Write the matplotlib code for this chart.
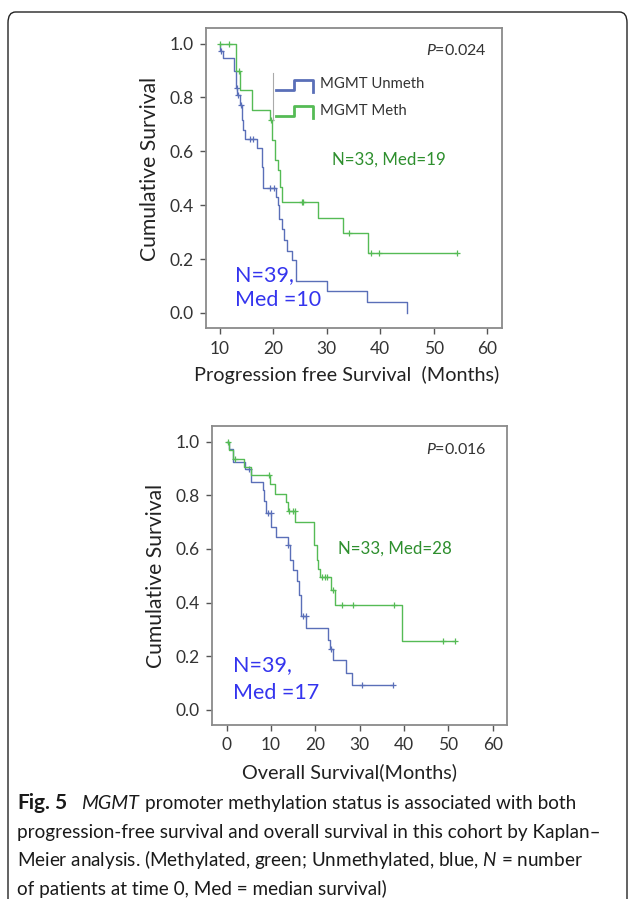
import numpy as np
import matplotlib
matplotlib.use("Agg")
import matplotlib.pyplot as plt
from matplotlib.patches import FancyBboxPatch

plt.rcParams['font.family'] = ['Lato', 'DejaVu Sans']
plt.rcParams['mathtext.fontset'] = 'custom'
plt.rcParams['mathtext.rm'] = 'Lato'
plt.rcParams['mathtext.it'] = 'Lato:italic'
plt.rcParams['mathtext.bf'] = 'Lato:bold'

# progression free survival, months (curve starts at 10)
pfs_meth_t = [13.0, 13.7, 15.9, 19.4, 19.7, 20.3, 20.9, 21.25, 21.6, 28.4, 33.0, 37.7]
pfs_meth_s = [0.897, 0.826, 0.754, 0.717, 0.643, 0.568, 0.531, 0.469, 0.411, 0.351, 0.295, 0.221]
pfs_meth_cens = [10.0, 11.75, 13.6, 19.6, 25.3, 25.6, 34.1, 38.3, 39.8, 54.4]

pfs_unmeth_t = [10.0, 10.6, 12.6, 13.05, 13.2, 13.7, 14.1, 14.4, 14.7, 17.0, 17.9, 18.0,
                20.5, 20.8, 21.0, 21.6, 22.0, 22.6, 23.4, 24.2, 30.0, 37.5, 45.0]
pfs_unmeth_s = [0.974, 0.947, 0.90, 0.835, 0.81, 0.773, 0.717, 0.68, 0.645, 0.612, 0.54, 0.463,
                0.43, 0.40, 0.35, 0.31, 0.27, 0.23, 0.195, 0.12, 0.081, 0.041, 0.0]
pfs_unmeth_cens = [10.2, 13.1, 13.3, 13.9, 15.6, 16.25, 19.4, 20.1]

# overall survival, months
os_meth_t = [0.6, 1.5, 3.9, 5.6, 9.8, 10.9, 13.4, 13.8, 15.5, 19.7, 20.3, 20.6, 21.0, 23.6, 24.4, 39.6]
os_meth_s = [0.967, 0.935, 0.905, 0.874, 0.843, 0.805, 0.774, 0.743, 0.70, 0.613, 0.558, 0.527,
             0.496, 0.446, 0.39, 0.258]
os_meth_cens = [0.4, 1.9, 9.5, 14.1, 15.0, 15.4, 21.6, 22.1, 22.7, 24.0, 26.1, 28.5, 37.8, 48.8, 51.4]

os_unmeth_t = [0.6, 1.5, 4.1, 5.6, 8.3, 8.5, 8.9, 10.1, 11.1, 13.8, 14.3, 15.0, 15.8, 16.4, 16.7,
               18.0, 22.9, 23.4, 24.0, 27.0, 28.2]
os_unmeth_s = [0.974, 0.923, 0.897, 0.849, 0.82, 0.78, 0.735, 0.68, 0.644, 0.613, 0.56, 0.52, 0.48,
               0.43, 0.35, 0.304, 0.26, 0.226, 0.186, 0.136, 0.093]
os_unmeth_cens = [5.1, 9.4, 9.9, 13.9, 17.3, 17.9, 23.6, 30.6, 37.5]

GREEN = '#55bb55'
BLUE = '#5a6fb8'
GREEN_TXT = '#2e8f2e'
BLUE_TXT = '#3434ee'
DARK = '#333333'
SPINE = '#8a8a8a'
W, H = 629, 899


def km_curve(ax, start, times, surv, cens, color):
    t = np.concatenate([[start], times])
    s = np.concatenate([[1.0], surv])
    if max(cens) > t[-1]:
        t = np.append(t, max(cens))
        s = np.append(s, s[-1])
    ax.step(t, s, where='post', color=color, lw=1.0)
    idx = np.searchsorted(t, cens, side='right') - 1
    ax.plot(cens, s[idx], ls='none', marker='+', ms=5, mew=0.9, color=color)


def style_axes(ax, xlim, xticks, xlabel, xlabel_x, ylabel_y):
    ax.set_xlim(*xlim)
    ax.set_ylim(-0.056, 1.058)
    ax.set_xticks(xticks)
    ax.set_yticks(np.arange(0, 1.01, 0.2))
    ax.set_yticklabels([f'{v:.1f}' for v in np.arange(0, 1.01, 0.2)])
    for sp in ax.spines.values():
        sp.set_color(SPINE)
        sp.set_linewidth(1.3)
    ax.tick_params(direction='out', length=4, width=1, color='#555555',
                   labelcolor=DARK, labelsize=12.5, pad=5)
    ax.set_ylabel('Cumulative Survival', fontsize=15.2, color='#222222', labelpad=7)
    ax.set_xlabel(xlabel, fontsize=14.3, color='#222222', labelpad=7)
    ax.xaxis.label.set_x(xlabel_x)
    ax.yaxis.label.set_y(ylabel_y)


def draw_runs(fig, x, y, runs):
    # place text pieces one after another on a shared baseline (pixel coords)
    r = fig.canvas.get_renderer()
    for s, gap, kw in runs:
        t = fig.text(x / W, 1 - y / H, s, ha='left', va='baseline', color='#1a1a1a', **kw)
        x += t.get_window_extent(renderer=r).width + gap


fig = plt.figure(figsize=(W / 100, H / 100), dpi=100)

# rounded frame around the figure panel
frame = FancyBboxPatch((8 / W, -0.05), 619 / W, 1.05 - 12 / H,
                       boxstyle='round,pad=0,rounding_size=0.012',
                       transform=fig.transFigure, fill=False, ec='#222222', lw=1.0)
fig.patches.append(frame)

# --- progression free survival ---
ax1 = fig.add_axes([206 / W, 1 - 328 / H, 296 / W, 300 / H])
km_curve(ax1, 10.0, pfs_unmeth_t, pfs_unmeth_s, pfs_unmeth_cens, BLUE)
km_curve(ax1, 10.0, pfs_meth_t, pfs_meth_s, pfs_meth_cens, GREEN)
style_axes(ax1, (7.38, 62.8), range(10, 61, 10), 'Progression free Survival  (Months)', 0.475, 0.53)

ax1.text(60.0, 0.975, r'$\mathit{P}$=0.024', ha='right', va='center', fontsize=11.5, color=DARK)
ax1.text(31.0, 0.57, 'N=33, Med=19', ha='left', va='center', fontsize=12.2, color=GREEN_TXT)
ax1.text(12.8, 0.141, 'N=39,', ha='left', va='center', fontsize=15.5, color=BLUE_TXT)
ax1.text(12.8, 0.048, 'Med =10', ha='left', va='center', fontsize=15.5, color=BLUE_TXT)

# legend drawn as small step glyphs
step_x = np.array([0.236, 0.297, 0.297, 0.361, 0.361])
step_y = np.array([0.0, 0.0, 0.032, 0.032, -0.006])
ax1.plot(step_x, 0.793 + step_y, color=BLUE, lw=2.0, transform=ax1.transAxes)
ax1.plot(step_x, 0.707 + step_y, color=GREEN, lw=2.0, transform=ax1.transAxes)
ax1.plot([0.226, 0.226], [0.693, 0.85], color='#aaaaaa', lw=0.8, transform=ax1.transAxes)
ax1.text(0.385, 0.813, 'MGMT Unmeth', transform=ax1.transAxes, ha='left', va='center',
         fontsize=10.7, color=DARK)
ax1.text(0.385, 0.723, 'MGMT Meth', transform=ax1.transAxes, ha='left', va='center',
         fontsize=10.7, color=DARK)

# --- overall survival ---
ax2 = fig.add_axes([212 / W, 1 - 725 / H, 295 / W, 299 / H])
km_curve(ax2, 0.0, os_unmeth_t, os_unmeth_s, os_unmeth_cens, BLUE)
km_curve(ax2, 0.0, os_meth_t, os_meth_s, os_meth_cens, GREEN)
style_axes(ax2, (-3.3, 63.2), range(0, 61, 10), 'Overall Survival(Months)', 0.465, 0.5)

ax2.text(58.6, 0.97, r'$\mathit{P}$=0.016', ha='right', va='center', fontsize=11.5, color=DARK)
ax2.text(25.1, 0.60, 'N=33, Med=28', ha='left', va='center', fontsize=12.2, color=GREEN_TXT)
ax2.text(1.4, 0.167, 'N=39,', ha='left', va='center', fontsize=15.5, color=BLUE_TXT)
ax2.text(1.4, 0.063, 'Med =17', ha='left', va='center', fontsize=15.5, color=BLUE_TXT)

# --- caption ---
cap_size = 13.55
draw_runs(fig, 17, 809, [
    ('Fig.', 4, dict(fontsize=15, fontweight='bold')),
    ('5', 15, dict(fontsize=15, fontweight='bold')),
    ('MGMT', 6, dict(fontsize=cap_size + 0.6, fontstyle='italic')),
    ('promoter methylation status is associated with both', 0, dict(fontsize=cap_size)),
])
caption = [
    'progression-free survival and overall survival in this cohort by Kaplan\u2013',
    r'Meier analysis. (Methylated, green; Unmethylated, blue, $\mathit{N}$ = number',
    'of patients at time 0, Med = median survival)',
]
for i, line in enumerate(caption):
    fig.text(17 / W, 1 - (809 + 28.6 * (i + 1)) / H, line, ha='left', va='baseline',
             fontsize=cap_size, color='#1a1a1a')

fig.savefig('out.png', dpi=100)
